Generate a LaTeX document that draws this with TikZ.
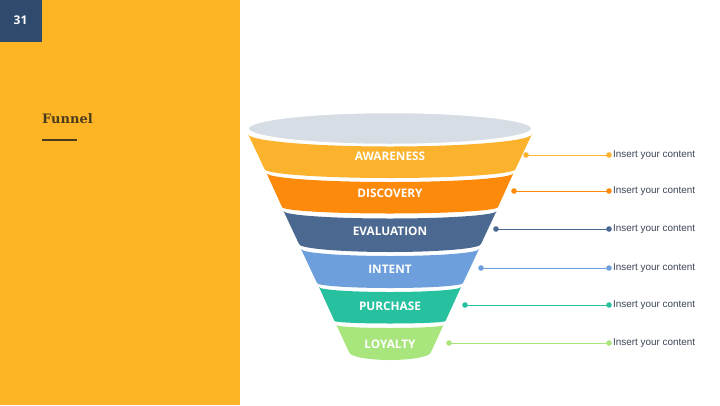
\documentclass[tikz,border=0pt]{standalone}
\usepackage{fontspec}
\setmainfont{Liberation Sans}
\newfontfamily\labelfont{Open Sans}
\newfontfamily\titlefont{DejaVu Serif}
\definecolor{panel}{HTML}{FDB525}
\definecolor{navy}{HTML}{2E4A6D}
\definecolor{titlec}{HTML}{4A3B1C}
\definecolor{awar}{HTML}{FBB22C}
\definecolor{disc}{HTML}{FE8A0B}
\definecolor{eval}{HTML}{4B6891}
\definecolor{intent}{HTML}{6C9FDC}
\definecolor{purch}{HTML}{27C19F}
\definecolor{loyal}{HTML}{A9E57D}
\definecolor{topgray}{HTML}{D6DDE5}
\definecolor{txt}{HTML}{3C4657}
\newcommand{\fband}[7]{%
  \fill[#1] ({390-#3},{-#2}) arc[start angle=180,end angle=360,x radius=#3pt,y radius=#4pt]
    -- ({390+#6},{-#5}) arc[start angle=0,end angle=-180,x radius=#6pt,y radius=#7pt] -- cycle;}
\tikzset{
  bandlabel/.style={text=white,font=\labelfont\bfseries\fontsize{11.8}{14}\selectfont,inner sep=0pt},
  itemtext/.style={anchor=west,text=txt,font=\fontsize{9.9}{12}\selectfont,inner sep=0pt},
  connector/.style={line width=1pt},
}
\begin{document}
\begin{tikzpicture}[x=1pt,y=1pt]
\useasboundingbox (0,0) rectangle (720,-405);
\fill[white] (0,0) rectangle (720,-405);
\fill[panel] (0,0) rectangle (240,-405);
\fill[navy] (0,0) rectangle (42,-42);
\node[text=white,font=\labelfont\bfseries\fontsize{12}{14}\selectfont] (num) at (20.5,-20.5) {31};
\node[anchor=west,text=titlec,font=\titlefont\bfseries\fontsize{13}{15}\selectfont,inner sep=0pt] (title) at (42,-119) {Funnel};
\draw[titlec,line width=1.8pt] (42,-140) -- (77,-140);
% funnel
\fband{awar}{134}{142}{12.5}{169}{125.5}{9}
\fband{disc}{173}{123.5}{9}{207}{108}{6.5}
\fband{eval}{211}{106.5}{7.5}{244}{91}{8}
\fband{intent}{249}{89}{7}{283}{73}{5}
\fband{purch}{287}{71}{5}{321}{55.5}{2.5}
\fband{loyal}{325}{53.5}{3}{352}{41}{8}
\fill[topgray,draw=white,line width=1.5pt] (390,-128.5) ellipse[x radius=142pt,y radius=16pt];
\node[bandlabel] (l1) at (390,-156.5) {AWARENESS};
\node[bandlabel] (l2) at (390,-193.5) {DISCOVERY};
\node[bandlabel] (l3) at (390,-231.5) {EVALUATION};
\node[bandlabel] (l4) at (390,-269.5) {INTENT};
\node[bandlabel] (l5) at (390,-306.5) {PURCHASE};
\node[bandlabel] (l6) at (390,-344.5) {LOYALTY};
% connectors
\foreach \n/\y/\xa/\c in {1/155/526/awar,2/191/514/disc,3/229/496/eval,4/268/481/intent,5/305/465/purch,6/343/449/loyal}{
  \coordinate (d\n) at (\xa,-\y);
  \coordinate (e\n) at (609,-\y);
  \node[itemtext] (t\n) at (613,-\y) {Insert your content};
  \draw[\c,connector] (d\n) -- (e\n);
  \fill[\c] (d\n) circle (2.8pt);
  \fill[\c] (e\n) circle (2.8pt);
}
\end{tikzpicture}
\end{document}
